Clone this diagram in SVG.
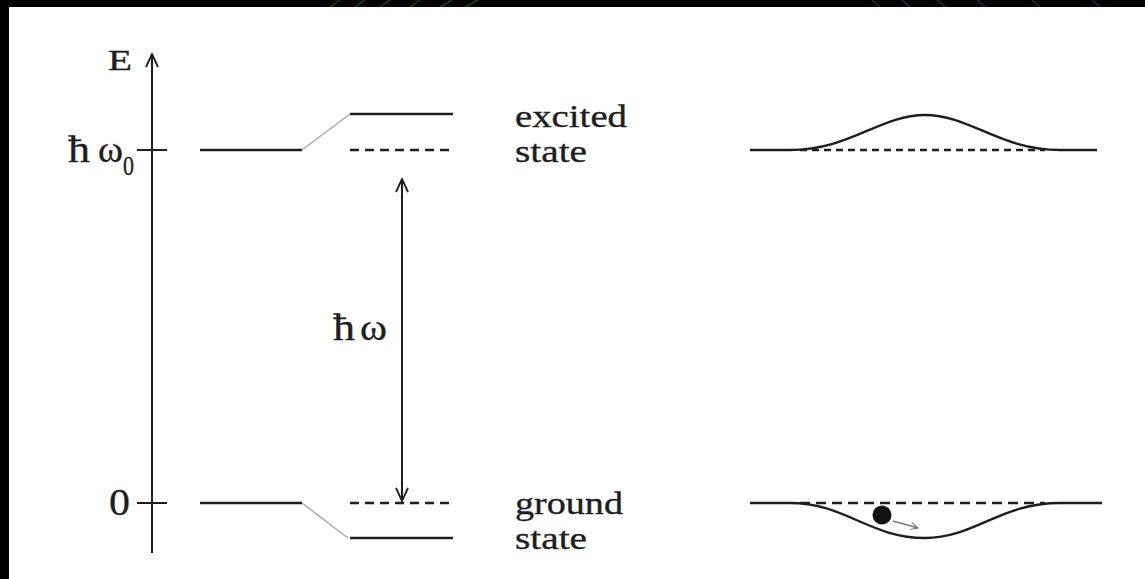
<svg xmlns="http://www.w3.org/2000/svg" width="1145" height="579" viewBox="0 0 1145 579">
  <style>
    .lvl { stroke: #1e1e1e; stroke-width: 2.4; fill: none; }
    .dash { stroke: #1e1e1e; stroke-width: 2.4; fill: none; stroke-dasharray: 9 6; }
    .slant { stroke: #aaa; stroke-width: 1.5; fill: none; }
    .ax { stroke: #1e1e1e; stroke-width: 2; fill: none; }
    .txt { font-family: "Liberation Serif", "Times New Roman", serif; fill: #1e1e1e; stroke: #1e1e1e; stroke-width: 0.35; }
    .streak-g { stroke: #1f5a1f; stroke-width: 1.5; opacity: 0.8; }
    .streak-b { stroke: #1d4650; stroke-width: 1.5; opacity: 0.8; }
  </style>
  <defs>
    <marker id="vhead" viewBox="0 0 15 14" refX="14" refY="7" markerWidth="15" markerHeight="14" markerUnits="userSpaceOnUse" orient="auto-start-reverse">
      <path d="M1,1 L14,7 L1,13" fill="none" stroke="#1e1e1e" stroke-width="1.8"/>
    </marker>
    <marker id="smallhead" viewBox="0 0 10 10" refX="9" refY="5" markerWidth="9" markerHeight="9" markerUnits="userSpaceOnUse" orient="auto">
      <path d="M1,1 L9,5 L1,9" fill="none" stroke="#777" stroke-width="1.2"/>
    </marker>
  </defs>

  <!-- background -->
  <rect x="0" y="0" width="1145" height="579" fill="#000"/>
  <g id="streaks">
    <line class="streak-g" x1="330" y1="7" x2="340" y2="0"/>
    <line class="streak-g" x1="355" y1="7" x2="365" y2="0"/>
    <line class="streak-g" x1="380" y1="7" x2="390" y2="0"/>
    <line class="streak-g" x1="410" y1="7" x2="420" y2="0"/>
    <line class="streak-g" x1="440" y1="7" x2="452" y2="0"/>
    <line class="streak-g" x1="465" y1="7" x2="478" y2="0"/>
    <line class="streak-b" x1="880" y1="7" x2="872" y2="0"/>
    <line class="streak-b" x1="910" y1="7" x2="902" y2="0"/>
    <line class="streak-b" x1="945" y1="7" x2="937" y2="0"/>
    <line class="streak-b" x1="985" y1="7" x2="977" y2="0"/>
    <line class="streak-b" x1="1040" y1="7" x2="1032" y2="0"/>
    <line class="streak-b" x1="1100" y1="7" x2="1092" y2="0"/>
  </g>
  <rect x="9" y="7" width="1136" height="572" fill="#fff"/>

  <!-- energy axis -->
  <g id="axis">
    <line class="ax" x1="152" y1="553" x2="152" y2="54" marker-end="url(#vhead)"/>
    <line class="ax" x1="137" y1="150" x2="167" y2="150"/>
    <line class="ax" x1="137" y1="503" x2="167" y2="503"/>
    <text class="txt" x="108" y="70" font-size="29" textLength="24" lengthAdjust="spacingAndGlyphs">E</text>
    <text class="txt" x="68" y="162" font-size="38" textLength="22" lengthAdjust="spacingAndGlyphs">ħ</text>
    <text class="txt" x="98" y="162" font-size="38" textLength="25" lengthAdjust="spacingAndGlyphs">ω</text>
    <text class="txt" x="123" y="175" font-size="28" textLength="11" lengthAdjust="spacingAndGlyphs">0</text>
    <text class="txt" x="109" y="515" font-size="38" textLength="21" lengthAdjust="spacingAndGlyphs">0</text>
  </g>

  <!-- unperturbed levels -->
  <g id="levels-left">
    <line class="lvl" x1="200" y1="150" x2="302" y2="150"/>
    <line class="lvl" x1="200" y1="503" x2="302" y2="503"/>
  </g>

  <!-- shifted levels -->
  <g id="levels-shifted">
    <line class="lvl" x1="350" y1="114" x2="453" y2="114"/>
    <line class="dash" x1="350" y1="150" x2="453" y2="150"/>
    <line class="dash" x1="350" y1="503" x2="453" y2="503"/>
    <line class="lvl" x1="350" y1="538" x2="453" y2="538"/>
  </g>

  <!-- connectors -->
  <g id="connectors">
    <line class="slant" x1="302" y1="150" x2="350" y2="114"/>
    <line class="slant" x1="302" y1="503" x2="348" y2="538"/>
    <line class="ax" x1="402" y1="179" x2="402" y2="501" marker-start="url(#vhead)" marker-end="url(#vhead)"/>
  </g>

  <g id="label-hw">
    <text class="txt" x="333" y="340" font-size="38" textLength="22" lengthAdjust="spacingAndGlyphs">ħ</text>
    <text class="txt" x="360" y="340" font-size="38" textLength="27" lengthAdjust="spacingAndGlyphs">ω</text>
  </g>

  <g id="label-excited">
    <text class="txt" x="515" y="127" font-size="31" textLength="112" lengthAdjust="spacingAndGlyphs">excited</text>
    <text class="txt" x="515" y="162" font-size="31" textLength="72" lengthAdjust="spacingAndGlyphs">state</text>
  </g>
  <g id="label-ground">
    <text class="txt" x="515" y="514" font-size="31" textLength="108" lengthAdjust="spacingAndGlyphs">ground</text>
    <text class="txt" x="515" y="549" font-size="31" textLength="72" lengthAdjust="spacingAndGlyphs">state</text>
  </g>

  <!-- wave pictures -->
  <g id="wave-excited">
    <path class="dash" style="stroke-dasharray:7 5" d="M800,150 L1045,150"/>
    <path class="lvl" d="M750,150 L790,150 C850,150 880,115 925,115 C970,115 1000,150 1060,150 L1097,150"/>
  </g>
  <g id="wave-ground">
    <path class="dash" style="stroke-dasharray:10 6" d="M800,503 L1045,503"/>
    <path class="lvl" d="M750,503 L790,503 C845,503 870,538 925,538 C975,538 1000,503 1060,503 L1102,503"/>
    <circle cx="882" cy="515" r="9.5" fill="#111"/>
    <line x1="893" y1="521" x2="918" y2="528" stroke="#777" stroke-width="1.3" marker-end="url(#smallhead)"/>
  </g>
</svg>
